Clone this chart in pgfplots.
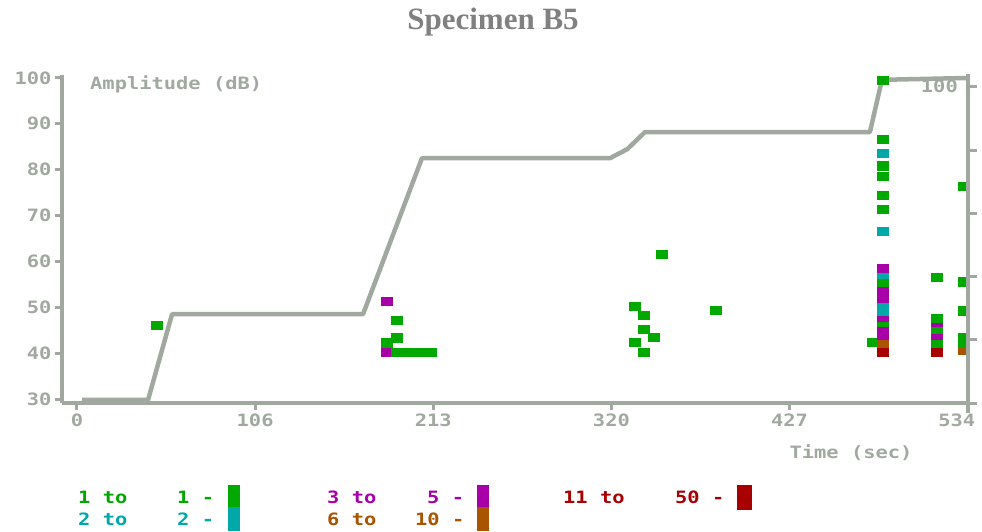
\documentclass[border=0pt]{standalone}
\usepackage{fontspec}
\usepackage{pgfplots}
\pgfplotsset{compat=1.18}
\setmainfont{Liberation Serif}
\newfontfamily\pix{DejaVu Sans Mono}[FakeStretch=1.2]
\definecolor{axgray}{RGB}{160,168,160}
\definecolor{colG}{RGB}{0,168,0}
\definecolor{colC}{RGB}{0,168,168}
\definecolor{colM}{RGB}{168,0,168}
\definecolor{colB}{RGB}{168,84,0}
\definecolor{colR}{RGB}{168,0,0}
\definecolor{titlegray}{RGB}{128,128,128}
\pgfdeclareplotmark{rect}{\pgfpathrectangle{\pgfqpoint{-6pt}{-4.6pt}}{\pgfqpoint{12pt}{9.2pt}}\pgfusepathqfill}
\newcommand{\pf}{\pix\bfseries\fontsize{17}{17}\selectfont}
\pgfplotstableread{
x y c
48.0 46.1 g
185.9 40.2 m
191.8 40.2 g
199.0 40.2 g
205.3 40.2 g
212.2 40.2 g
185.9 42.2 g
191.8 43.3 g
191.8 47.1 g
185.9 51.3 m
340.2 40.2 g
334.5 42.3 g
346.2 43.4 g
340.2 45.2 g
340.2 48.2 g
383.1 49.3 g
334.5 50.2 g
351.0 61.5 g
477.2 42.3 g
483.5 40.1 r
483.5 42.1 b
483.5 43.8 m
483.5 45.0 m
483.5 46.6 g
483.5 47.7 m
483.5 49.0 c
483.5 50.4 c
483.5 51.9 m
483.5 53.5 m
483.5 55.4 g
483.5 57.1 c
483.5 58.5 m
483.5 66.6 c
483.5 71.4 g
483.5 74.4 g
483.5 78.6 g
483.5 80.8 g
483.5 83.6 c
483.5 86.6 g
483.5 99.5 g
515.6 40.1 r
515.6 42.1 g
515.6 43.8 m
515.6 45.1 g
515.6 46.6 m
515.6 47.6 g
515.6 56.5 g
531.8 40.5 b
531.8 42.3 g
531.8 43.4 g
531.8 49.2 g
531.8 55.5 g
531.8 76.3 g
}\hits
\begin{document}
\begin{tikzpicture}
\useasboundingbox (0,0) rectangle (982pt,-531pt);
\begin{axis}[
  at={(62pt,-403pt)}, anchor=south west,
  scale only axis, width=906pt, height=328pt,
  xmin=-8.99, xmax=534.2, ymin=29.13, ymax=100.65,
  axis lines=left,
  axis line style={axgray, line width=3.5pt, -},
  tick style={axgray, line width=3pt},
  tick align=outside, major tick length=7pt,
  xtick={0,106.8,213.6,320.4,427.2,534},
  xticklabels={0,106,213,320,427,{\makebox[0pt]{\kern-22pt 534}}},
  ytick={30,40,...,100},
  /pgf/number format/assume math mode=true,
  tick label style={font=\pf, text=axgray},
  clip=false,
]
\addplot[axgray, line width=4.5pt, line join=round] coordinates {
(3.0,29.8) (42.6,29.8) (57.0,48.5) (171.5,48.5) (206.8,82.5) (319.5,82.5)
(330.0,84.5) (340.5,88.2) (475.4,88.2) (482.6,99.6) (534,100)};
\addplot[scatter, only marks, mark=rect, scatter src=explicit symbolic,
  scatter/classes={g={mark=rect,color=colG},c={mark=rect,color=colC},m={mark=rect,color=colM},b={mark=rect,color=colB},r={mark=rect,color=colR}}]
  table[x=x, y=y, meta=c] {\hits};
\end{axis}
\begin{axis}[
  at={(62pt,-413pt)}, anchor=south west,
  scale only axis, width=906pt, height=339pt,
  xmin=0, xmax=1, ymin=-3.16, ymax=104.1,
  axis x line=none, axis y line*=right,
  axis line style={axgray, line width=3.5pt, -},
  tick style={axgray, line width=3pt},
  tick align=outside, major tick length=9pt,
  ytick={0,20,...,100}, yticklabels={},
]
\end{axis}
\node[font=\bfseries\fontsize{31}{31}\selectfont, text=titlegray] at (493pt,-22pt) {Specimen B5};
\node[font=\pf, text=axgray, anchor=west, inner sep=0pt] at (90pt,-84pt) {Amplitude (dB)};
\node[font=\pf, text=axgray, anchor=east, inner sep=0pt] at (958pt,-86pt) {100};
\node[font=\pf, text=axgray, inner sep=0pt] at (851pt,-453pt) {Time (sec)};
% legend
\node[font=\pf, text=colG, anchor=base west, inner sep=0pt] at (78pt,-503pt) {1 to};
\node[font=\pf, text=colG, anchor=base west, inner sep=0pt] at (177pt,-503pt) {1 -};
\node[font=\pf, text=colC, anchor=base west, inner sep=0pt] at (78pt,-525pt) {2 to};
\node[font=\pf, text=colC, anchor=base west, inner sep=0pt] at (177pt,-525pt) {2 -};
\node[font=\pf, text=colM, anchor=base west, inner sep=0pt] at (327pt,-503pt) {3 to};
\node[font=\pf, text=colM, anchor=base west, inner sep=0pt] at (427pt,-503pt) {5 -};
\node[font=\pf, text=colB, anchor=base west, inner sep=0pt] at (327pt,-525pt) {6 to};
\node[font=\pf, text=colB, anchor=base west, inner sep=0pt] at (415pt,-525pt) {10 -};
\node[font=\pf, text=colR, anchor=base west, inner sep=0pt] at (563pt,-503pt) {11 to};
\node[font=\pf, text=colR, anchor=base west, inner sep=0pt] at (675pt,-503pt) {50 -};
\fill[colG] (228pt,-485pt) rectangle (240pt,-507pt);
\fill[colC] (228pt,-507pt) rectangle (240pt,-531pt);
\fill[colM] (477pt,-485pt) rectangle (489pt,-507pt);
\fill[colB] (477pt,-507pt) rectangle (489pt,-531pt);
\fill[colR] (737pt,-485pt) rectangle (752pt,-510pt);
\end{tikzpicture}
\end{document}
